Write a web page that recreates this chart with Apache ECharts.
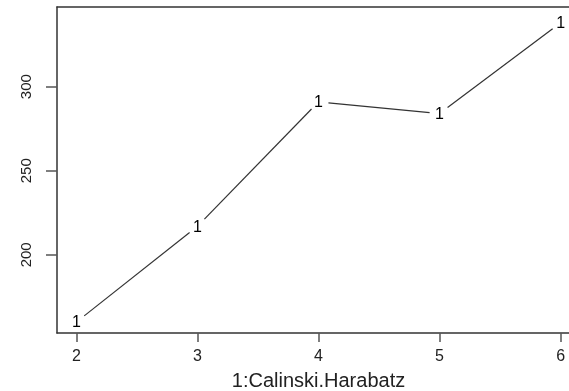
<!DOCTYPE html>
<html>
<head>
<meta charset="utf-8">
<script src="https://cdn.jsdelivr.net/npm/echarts@6/dist/echarts.min.js"></script>
<style>
  html, body { margin: 0; padding: 0; background: #fff; }
  #chart { width: 569px; height: 391px; }
</style>
</head>
<body>
<div id="chart"></div>
<script>
// Number of clusters on the x axis and the Calinski-Harabatz index for each
const kValues = [2, 3, 4, 5, 6];
const chIndex = [160, 217, 291, 284, 338];
const xTicks = [2, 3, 4, 5, 6];
const yTicks = [200, 250, 300];
const pointLabel = '1';
const xTitle = '1:Calinski.Harabatz';

// Axis limits (x padded 4% each side, R style)
const xMin = 1.84, xMax = 6.16;
const yMin = 153.5, yMax = 347.4;

const GAP = 10; // blank space left around each plotted symbol
const FONT = 'Liberation Sans, Arial, sans-serif';

const chart = echarts.init(document.getElementById('chart'), null, { renderer: 'canvas' });

function renderPoint(params, api) {
  const i = params.dataIndex;
  const p = api.coord([api.value(0), api.value(1)]);
  const children = [];
  if (i < kValues.length - 1) {
    const q = api.coord([kValues[i + 1], chIndex[i + 1]]);
    const dx = q[0] - p[0], dy = q[1] - p[1];
    const len = Math.sqrt(dx * dx + dy * dy);
    const ux = dx / len, uy = dy / len;
    children.push({
      type: 'line',
      shape: {
        x1: p[0] + ux * GAP, y1: p[1] + uy * GAP,
        x2: q[0] - ux * GAP, y2: q[1] - uy * GAP
      },
      style: { stroke: '#333', lineWidth: 1.2 }
    });
  }
  children.push({
    type: 'text',
    style: {
      text: pointLabel,
      x: p[0], y: p[1] + 1,
      textAlign: 'center', align: 'center',
      textVerticalAlign: 'middle', verticalAlign: 'middle',
      font: '16px ' + FONT,
      fill: '#000'
    }
  });
  return { type: 'group', children: children };
}

// The plot frame: bottom, left and top edges (the right edge lies past the canvas)
const frame = { show: true, onZero: false, lineStyle: { color: '#333', width: 1.5 } };

chart.setOption({
  animation: false,
  backgroundColor: '#fff',
  grid: {
    left: 57, top: 7, width: 523, height: 326,
    outerBoundsMode: 'none',
    containLabel: false,
    show: false
  },
  xAxis: [{
    type: 'value',
    min: xMin, max: xMax,
    splitLine: { show: false },
    axisLine: frame,
    axisTick: { show: true, customValues: xTicks, length: 9, lineStyle: { color: '#555', width: 1.5 } },
    axisLabel: {
      customValues: xTicks, margin: 16,
      color: '#222', fontSize: 16, fontFamily: FONT
    },
    name: xTitle,
    nameLocation: 'middle',
    nameGap: 38,
    nameTextStyle: { color: '#222', fontSize: 20, fontFamily: FONT }
  }, {
    type: 'value',
    position: 'top',
    min: xMin, max: xMax,
    splitLine: { show: false },
    axisLine: frame,
    axisTick: { show: false },
    axisLabel: { show: false }
  }],
  yAxis: {
    type: 'value',
    min: yMin, max: yMax,
    splitLine: { show: false },
    axisLine: frame,
    axisTick: { show: true, customValues: yTicks, length: 11, lineStyle: { color: '#555', width: 1.5 } },
    axisLabel: {
      customValues: yTicks, rotate: 90, margin: 23,
      color: '#222', fontSize: 15, fontFamily: FONT
    }
  },
  series: [{
    type: 'custom',
    xAxisIndex: 0,
    renderItem: renderPoint,
    data: kValues.map((k, i) => [k, chIndex[i]]),
    clip: false
  }]
});
</script>
</body>
</html>
